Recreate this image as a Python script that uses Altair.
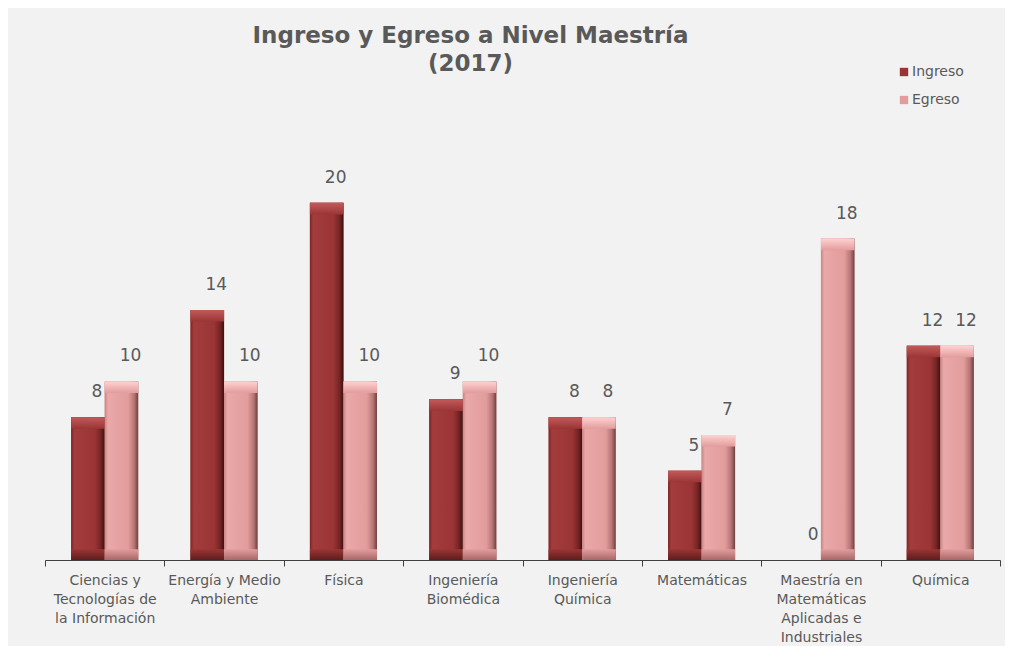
import altair as alt
import pandas as pd

categories = [
    "Ciencias y\nTecnologías de\nla Información",
    "Energía y Medio\nAmbiente",
    "Física",
    "Ingeniería\nBiomédica",
    "Ingeniería\nQuímica",
    "Matemáticas",
    "Maestría en\nMatemáticas\nAplicadas e\nIndustriales",
    "Química",
]
ingreso = [8, 14, 20, 9, 8, 5, 0, 12]
egreso = [10, 10, 10, 10, 8, 7, 18, 12]
series = ["Ingreso", "Egreso"]

rows = []
for c, a, b in zip(categories, ingreso, egreso):
    rows.append({"cat": c, "serie": "Ingreso", "value": a})
    rows.append({"cat": c, "serie": "Egreso", "value": b})
df = pd.DataFrame(rows)

TXT = "#595959"
FONT = "DejaVu Sans"
YMAX = 28

x_enc = alt.X(
    "cat:N",
    sort=categories,
    scale=alt.Scale(paddingInner=0, paddingOuter=0),
    axis=alt.Axis(
        title=None,
        labelAngle=0,
        tickBand="extent",
        labelExpr="split(datum.label, '\\n')",
        labelFontSize=14,
        labelColor=TXT,
        labelFont=FONT,
        labelLineHeight=19,
        labelPadding=7,
        domainColor="#404040",
        tickColor="#404040",
        tickSize=6,
        labelLimit=300,
    ),
)
y_enc = alt.Y("value:Q", scale=alt.Scale(domain=[0, YMAX]), axis=None)
xo_enc = alt.XOffset(
    "serie:N", sort=series, scale=alt.Scale(domain=series, paddingOuter=0.78, paddingInner=0)
)

base = alt.Chart(df).encode(x=x_enc, xOffset=xo_enc)

bars = base.mark_bar().encode(
    y=y_enc,
    color=alt.Color(
        "serie:N",
        sort=series,
        scale=alt.Scale(domain=series, range=["#9b3535", "#e29c9c"]),
        legend=alt.Legend(
            title=None,
            orient="none",
            legendX=852,
            legendY=5,
            symbolType="square",
            symbolSize=70,
            labelFontSize=14,
            labelFont=FONT,
            labelColor=TXT,
            labelOffset=1,
            rowPadding=14,
        ),
    ),
)


def grad_h(stops):
    return alt.Gradient(
        gradient="linear",
        x1=0, x2=1, y1=0, y2=0,
        stops=[alt.GradientStop(offset=o, color=c) for o, c in stops],
    )


def grad_v(stops):
    return alt.Gradient(
        gradient="linear",
        x1=0, x2=0, y1=0, y2=1,
        stops=[alt.GradientStop(offset=o, color=c) for o, c in stops],
    )


styles = {
    "Ingreso": dict(
        body=[(0, "#7e2626"), (0.1, "#a33c3c"), (0.7, "#9b3535"), (0.88, "#762424"), (1, "#3e1010")],
        top=[(0, "#c25a5a"), (1, "#9b3535")],
        bot=[(0, "#9b3535"), (1, "#5e1c1c")],
    ),
    "Egreso": dict(
        body=[(0, "#c98484"), (0.1, "#eaa8a8"), (0.7, "#e29c9c"), (0.88, "#b87575"), (1, "#6e4040")],
        top=[(0, "#ffd2d2"), (1, "#e29c9c")],
        bot=[(0, "#e29c9c"), (1, "#a86868")],
    ),
}

overlays = []
for s in series:
    st = styles[s]
    sub = base.transform_filter(alt.datum.serie == s).transform_filter(alt.datum.value > 0)
    overlays.append(sub.mark_bar(fill=grad_h(st["body"])).encode(y=y_enc))
    overlays.append(
        sub.transform_calculate(v2="datum.value - 0.65")
        .mark_bar(fill=grad_v(st["top"]))
        .encode(y=y_enc, y2="v2:Q")
    )
    overlays.append(
        sub.transform_calculate(v0="0", v1="0.6")
        .mark_bar(fill=grad_v(st["bot"]))
        .encode(y=alt.Y("v1:Q", scale=alt.Scale(domain=[0, YMAX]), axis=None), y2="v0:Q")
    )

labels = base.mark_text(
    fontSize=17, font=FONT, color=TXT, dy=-25, dx=9, baseline="middle"
).encode(y=y_enc, text=alt.Text("value:Q"))

chart = (
    alt.layer(bars, *overlays, labels)
    .properties(
        width=955,
        height=500,
        autosize=alt.AutoSizeParams(type="none"),
        padding={"left": 37, "top": 52, "right": 5, "bottom": 86},
        background="#f2f2f2",
        title=alt.TitleParams(
            text=["Ingreso y Egreso a Nivel Maestría", "(2017)"],
            fontSize=23,
            font=FONT,
            fontWeight="bold",
            color=TXT,
            anchor="middle",
            dx=-52,
            offset=-16,
            lineHeight=28,
        ),
    )
    .configure_view(stroke=None)
)

chart.save("out.html", embed_options={"renderer": "svg", "actions": False})
